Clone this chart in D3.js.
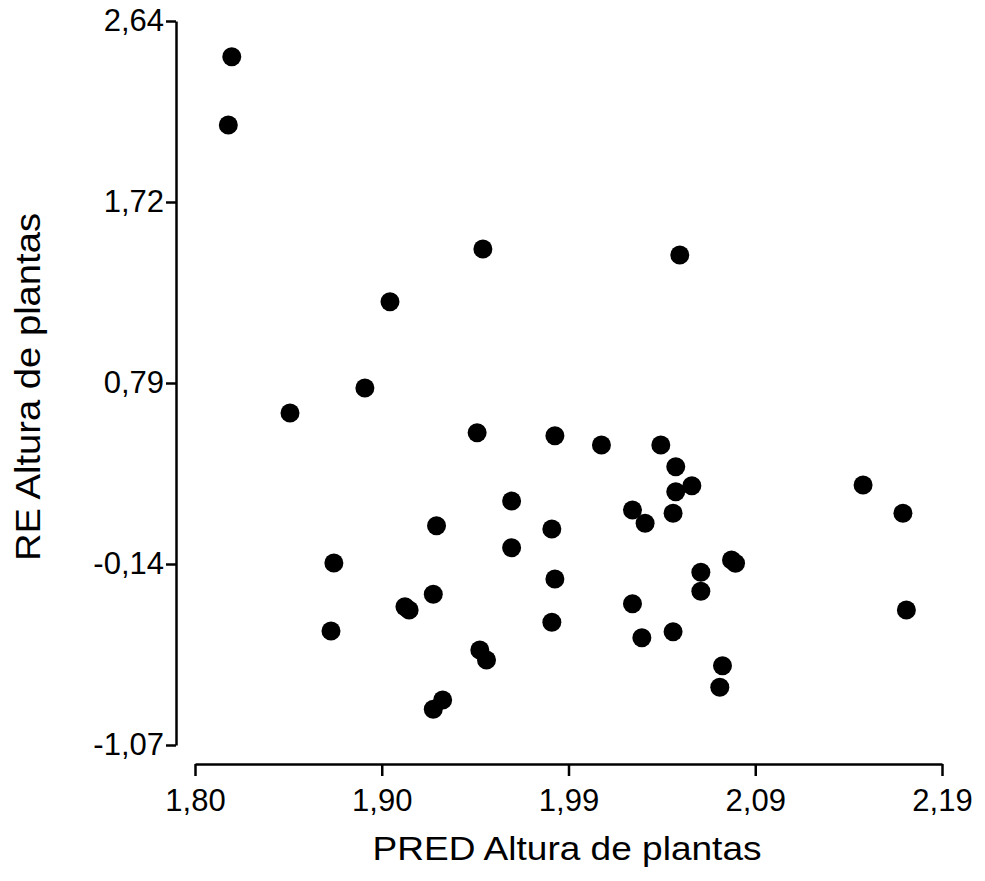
<!DOCTYPE html>
<html>
<head>
<meta charset="utf-8">
<script src="https://cdn.jsdelivr.net/npm/d3@7"></script>
<style>
  body { margin: 0; background: #fff; }
  text { font-family: Arial, "Liberation Sans", sans-serif; fill: #000; }
</style>
</head>
<body>
<svg id="chart"></svg>
<script>
const width = 985;
const height = 881;

// PRED (x) and RE (y) values
const predValues = [1.8192, 1.8174, 1.9503, 2.0531, 1.9018, 1.8887, 1.8496, 1.9473, 1.9879, 2.0122,
  2.0432, 2.0510, 2.0594, 2.0510, 2.1488, 2.1696, 1.9653, 2.0284, 2.0350, 2.0496,
  1.9261, 1.9863, 1.9653, 1.8725, 2.0801, 2.0822, 2.0641, 1.9879, 2.0641, 1.9244,
  1.9096, 1.9118, 2.0284, 2.1714, 1.9863, 1.8710, 2.0496, 2.0333, 1.9487, 1.9522,
  2.0754, 2.0740, 1.9293, 1.9244];
const reValues = [2.4571, 2.1071, 1.4717, 1.4409, 1.2016, 0.7594, 0.6313, 0.5303, 0.5149, 0.4673,
  0.4673, 0.3561, 0.2587, 0.2280, 0.2623, 0.1173, 0.1803, 0.1342, 0.0660, 0.1173,
  0.0538, 0.0369, -0.0590, -0.1374, -0.1220, -0.1389, -0.1850, -0.2193, -0.2824, -0.2978,
  -0.3613, -0.3782, -0.3459, -0.3782, -0.4413, -0.4858, -0.4894, -0.5202, -0.5832, -0.6344,
  -0.6636, -0.7743, -0.8394, -0.8871];

// tick positions and their printed labels (evenly spaced, labels rounded like the original)
const xTicks = [1.80, 1.8975, 1.995, 2.0925, 2.19];
const xTickLabels = ["1,80", "1,90", "1,99", "2,09", "2,19"];
const yTicks = [-1.07, -0.1425, 0.785, 1.7125, 2.64];
const yTickLabels = ["-1,07", "-0,14", "0,79", "1,72", "2,64"];

const points = predValues.map((p, i) => ({ pred: p, re: reValues[i] }));

const svg = d3.select("#chart")
  .attr("width", width)
  .attr("height", height);

const xScale = d3.scaleLinear()
  .domain([1.80, 2.19])
  .range([195, 942]);

const yScale = d3.scaleLinear()
  .domain([-1.07, 2.64])
  .range([745, 21]);

// x axis (detached from y axis, Prism style)
const xAxis = d3.axisBottom(xScale)
  .tickValues(xTicks)
  .tickFormat((d, i) => xTickLabels[i])
  .tickSize(12)
  .tickSizeOuter(0)
  .tickPadding(13);

const gx = svg.append("g")
  .attr("transform", "translate(0,764)")
  .call(xAxis);

// y axis
const yAxis = d3.axisLeft(yScale)
  .tickValues(yTicks)
  .tickFormat((d, i) => yTickLabels[i])
  .tickSize(10)
  .tickSizeOuter(0)
  .tickPadding(2);

const gy = svg.append("g")
  .attr("transform", "translate(176,0)")
  .call(yAxis);

[gx, gy].forEach(g => {
  g.selectAll("path, line").attr("stroke", "#000").attr("stroke-width", 2.5);
  g.selectAll("text")
    .attr("font-size", 31)
    .attr("font-family", "Arial, 'Liberation Sans', sans-serif")
    .attr("fill", "#000");
});

// points
svg.append("g")
  .selectAll("circle")
  .data(points)
  .enter()
  .append("circle")
  .attr("cx", d => xScale(d.pred))
  .attr("cy", d => yScale(d.re))
  .attr("r", 9.5)
  .attr("fill", "#000");

// axis titles
svg.append("text")
  .attr("x", 567)
  .attr("y", 860)
  .attr("text-anchor", "middle")
  .attr("font-size", 33)
  .attr("textLength", 389)
  .attr("lengthAdjust", "spacingAndGlyphs")
  .text("PRED Altura de plantas");

svg.append("text")
  .attr("transform", "translate(40,387) rotate(-90)")
  .attr("text-anchor", "middle")
  .attr("font-size", 35)
  .attr("textLength", 348)
  .attr("lengthAdjust", "spacingAndGlyphs")
  .text("RE Altura de plantas");
</script>
</body>
</html>
